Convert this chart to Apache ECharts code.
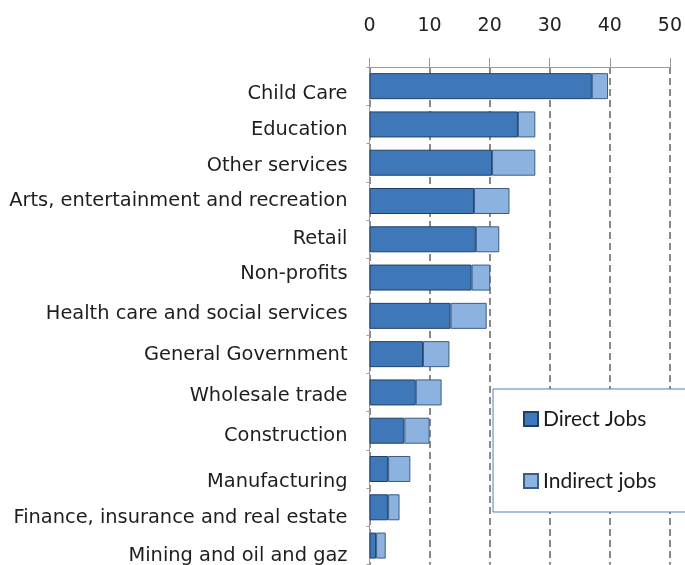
<!DOCTYPE html>
<html>
<head>
<meta charset="utf-8">
<script src="https://cdn.jsdelivr.net/npm/echarts@6/dist/echarts.min.js"></script>
<style>
  html, body { margin: 0; padding: 0; background: #ffffff; }
  #chart { width: 685px; height: 565px; }
</style>
</head>
<body>
<div id="chart"></div>
<script>
const categories = [
  'Child Care', 'Education', 'Other services', 'Arts, entertainment and recreation',
  'Retail', 'Non-profits', 'Health care and social services', 'General Government',
  'Wholesale trade', 'Construction', 'Manufacturing', 'Finance, insurance and real estate',
  'Mining and oil and gaz'
];
const directJobs   = [37.0, 24.7, 20.4, 17.4, 17.7, 17.0, 13.5, 8.9, 7.7, 5.8, 3.1, 3.1, 1.1];
const indirectJobs = [2.7, 2.9, 7.2, 5.9, 3.9, 3.1, 6.0, 4.4, 4.3, 4.2, 3.7, 1.9, 1.6];
const xTicks = { min: 0, max: 50, interval: 10 };

// style only: vertical nudge (px) of each category label, as placed in the original
const labelNudge = [8, 6, 3, -0.5, -0.5, -4, -2, 1, 3.5, 5.5, 12.5, 10.5, 10];

const labelFont = { fontSize: 19.4, fontFamily: 'DejaVu Sans', color: '#1e1e1e' };
const richStyles = {};
labelNudge.forEach(function (s, i) {
  richStyles['n' + i] = Object.assign({}, labelFont, {
    padding: s >= 0 ? [2 * s, 0, 0, 0] : [0, 0, -2 * s, 0]
  });
});

const chart = echarts.init(document.getElementById('chart'));
chart.setOption({
  animation: false,
  backgroundColor: '#ffffff',
  grid: { left: 369.5, top: 67, width: 302, height: 499.5, containLabel: false },
  xAxis: {
    type: 'value',
    position: 'top',
    min: xTicks.min, max: xTicks.max, interval: xTicks.interval,
    axisLine: { show: true, lineStyle: { color: '#9a9a9a', width: 1 } },
    axisTick: { show: true, length: 9, lineStyle: { color: '#9a9a9a', width: 1 } },
    axisLabel: { margin: 31, fontSize: 19, color: '#222222', fontFamily: 'DejaVu Sans' },
    splitLine: { show: true, lineStyle: { color: '#8a8a8a', width: 2, type: [7, 4] } }
  },
  yAxis: {
    type: 'category',
    inverse: true,
    data: categories,
    axisLine: { show: true, lineStyle: { color: '#9a9a9a', width: 1 } },
    axisTick: { show: true, length: 3, alignWithLabel: false, lineStyle: { color: '#9a9a9a' } },
    axisLabel: Object.assign({
      margin: 22,
      formatter: function (value) {
        const i = categories.indexOf(value);
        return '{n' + i + '|' + value + '}';
      },
      rich: richStyles
    }, labelFont),
    splitLine: { show: false }
  },
  legend: {
    orient: 'vertical',
    left: 493, top: 389,
    padding: [19, 60, 20, 30],
    backgroundColor: '#ffffff',
    borderColor: '#4f81bd',
    borderWidth: 1,
    itemWidth: 14, itemHeight: 14, itemGap: 40,
    icon: 'rect',
    textStyle: { fontSize: 21, fontFamily: 'Lato', color: '#1a1a1a', lineHeight: 22 },
    data: ['Direct Jobs', 'Indirect jobs']
  },
  series: [
    {
      name: 'Direct Jobs', type: 'bar', stack: 'jobs', barWidth: 26,
      data: directJobs,
      itemStyle: { color: '#3f78b8', borderColor: '#203f66', borderWidth: 1 }
    },
    {
      name: 'Indirect jobs', type: 'bar', stack: 'jobs', barWidth: 26,
      data: indirectJobs,
      itemStyle: { color: '#8cb3df', borderColor: '#3a5c86', borderWidth: 1 }
    }
  ]
});
</script>
</body>
</html>
